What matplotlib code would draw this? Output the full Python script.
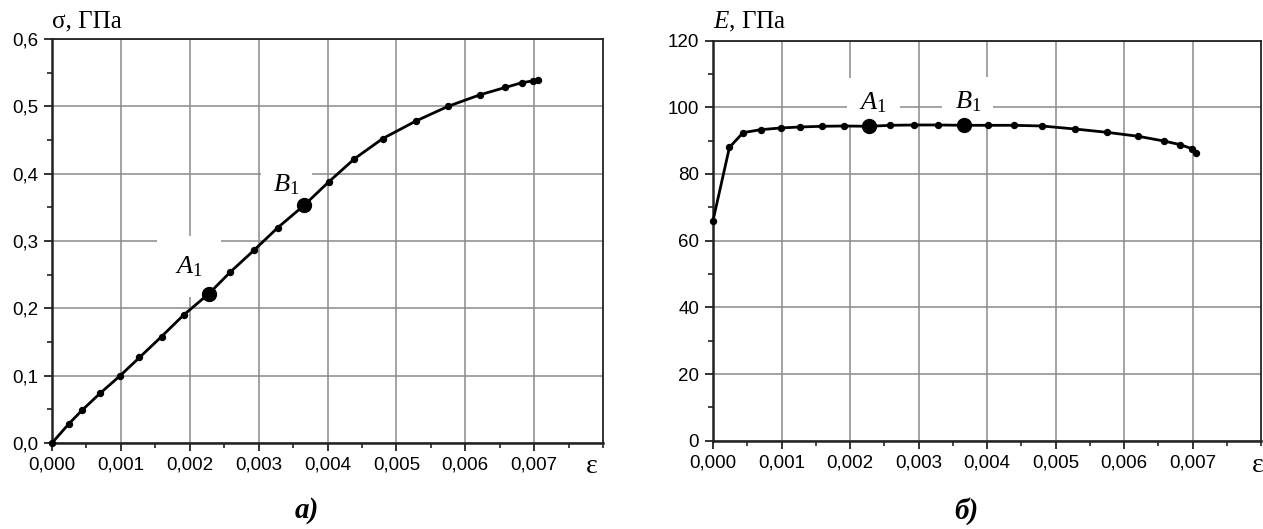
import matplotlib.pyplot as plt
from matplotlib.ticker import MultipleLocator

# --- данные ---
eps = [0.0, 0.00024, 0.00044, 0.00070, 0.00099, 0.00127, 0.00159, 0.00191,
       0.00228, 0.00259, 0.00294, 0.00328, 0.00366, 0.00402, 0.00439, 0.00480,
       0.00528, 0.00575, 0.00621, 0.00658, 0.00682, 0.00699, 0.00705]
sigma = [0.0, 0.028, 0.049, 0.074, 0.100, 0.127, 0.158, 0.190,
         0.222, 0.254, 0.287, 0.320, 0.353, 0.388, 0.422, 0.452,
         0.478, 0.500, 0.517, 0.528, 0.535, 0.538, 0.539]
E_mod = [66.0, 88.0, 92.4, 93.3, 93.8, 94.1, 94.3, 94.4,
         94.3, 94.6, 94.7, 94.7, 94.6, 94.6, 94.6, 94.4,
         93.5, 92.5, 91.3, 89.9, 88.8, 87.6, 86.3]
iA, iB = 8, 12  # точки A1 и B1

x_ticks = [0.000, 0.001, 0.002, 0.003, 0.004, 0.005, 0.006, 0.007]
x_labels = ["0,000", "0,001", "0,002", "0,003", "0,004", "0,005", "0,006", "0,007"]
s_ticks = [0.0, 0.1, 0.2, 0.3, 0.4, 0.5, 0.6]
s_labels = ["0,0", "0,1", "0,2", "0,3", "0,4", "0,5", "0,6"]
e_ticks = [0, 20, 40, 60, 80, 100, 120]
e_labels = ["0", "20", "40", "60", "80", "100", "120"]

plt.rcParams["font.family"] = ["Liberation Sans", "DejaVu Sans"]
plt.rcParams["mathtext.fontset"] = "custom"
plt.rcParams["mathtext.rm"] = "Liberation Serif"
plt.rcParams["mathtext.it"] = "Liberation Serif:italic"

W, H = 1263, 529
fig = plt.figure(figsize=(W / 100, H / 100), dpi=100)
ax1 = fig.add_axes([52 / W, 86 / H, 551 / W, 404 / H])
ax2 = fig.add_axes([713 / W, 88.2 / H, 548 / W, 400.2 / H])

serif = "Liberation Serif"
grid_col = "#8a8a8a"


def style(ax, yt, yl, ymin, ymax, yminor, xmax):
    ax.set_xlim(0, xmax)
    ax.set_ylim(ymin, ymax)
    ax.set_xticks(x_ticks)
    ax.set_xticklabels(x_labels)
    ax.set_yticks(yt)
    ax.set_yticklabels(yl)
    ax.xaxis.set_minor_locator(MultipleLocator(0.0005))
    ax.yaxis.set_minor_locator(MultipleLocator(yminor))
    ax.tick_params(which="major", direction="out", length=6, width=1.3,
                   labelsize=13.5, pad=4, color="#222")
    ax.tick_params(which="minor", direction="out", length=3.5, width=1.2,
                   color="#222")
    ax.grid(True, which="major", color=grid_col, linewidth=1.1)
    ax.set_axisbelow(True)
    for s in ["left", "bottom"]:
        ax.spines[s].set_linewidth(1.8)
    for s in ["top", "right"]:
        ax.spines[s].set_linewidth(1.3)
    for s in ax.spines.values():
        s.set_color("#222")


# а) sigma - eps
style(ax1, s_ticks, s_labels, 0, 0.6, 0.05, 0.008)
ax1.plot(eps, sigma, color="black", linewidth=2.0, marker="o", markersize=4.3,
         zorder=4, clip_on=False)
ax1.plot([eps[iA], eps[iB]], [sigma[iA], sigma[iB]], "o", color="black",
         markersize=10, zorder=5)
box = dict(facecolor="white", edgecolor="none", pad=9)
boxA = dict(facecolor="white", edgecolor="none", pad=13)
ax1.text(0.00199, 0.262, "$A_1$", fontsize=19, ha="center", va="center",
         bbox=boxA, zorder=3)
ax1.text(0.00340, 0.383, "$B_1$", fontsize=19, ha="center", va="center",
         bbox=box, zorder=3)
ax1.text(0.0, 1.015, "σ, ГПа", transform=ax1.transAxes, fontsize=18,
         family=serif, ha="left", va="bottom")
ax1.text(0.00784, -0.058, "ε", transform=ax1.get_xaxis_transform(),
         fontsize=20, family=serif, ha="center", va="center")

# б) E - eps
style(ax2, e_ticks, e_labels, 0, 120, 10, 0.0080)
ax2.plot(eps, E_mod, color="black", linewidth=2.0, marker="o", markersize=4.3,
         zorder=4, clip_on=False)
ax2.plot([eps[iA], eps[iB]], [E_mod[iA], E_mod[iB]], "o", color="black",
         markersize=10, zorder=5)
ax2.text(0.00234, 101.4, "$A_1$", fontsize=19, ha="center", va="center",
         bbox=box, zorder=3)
ax2.text(0.00372, 101.7, "$B_1$", fontsize=19, ha="center", va="center",
         bbox=box, zorder=3)
ax2.text(0.0, 1.017, "$E$, ГПа", transform=ax2.transAxes, fontsize=18,
         family=serif, ha="left", va="bottom")
ax2.text(1252 / W, 1 - 466 / H, "ε", transform=fig.transFigure,
         fontsize=20, family=serif, ha="left", va="center")

# подписи а) и б)
fig.text(307 / W, 1 - 511 / H, "а)", fontsize=21, family=serif,
         weight="bold", style="italic", ha="center", va="center")
fig.text(966 / W, 1 - 511 / H, "б)", fontsize=21, family=serif,
         weight="bold", style="italic", ha="center", va="center")

fig.savefig("out.png", dpi=100)
